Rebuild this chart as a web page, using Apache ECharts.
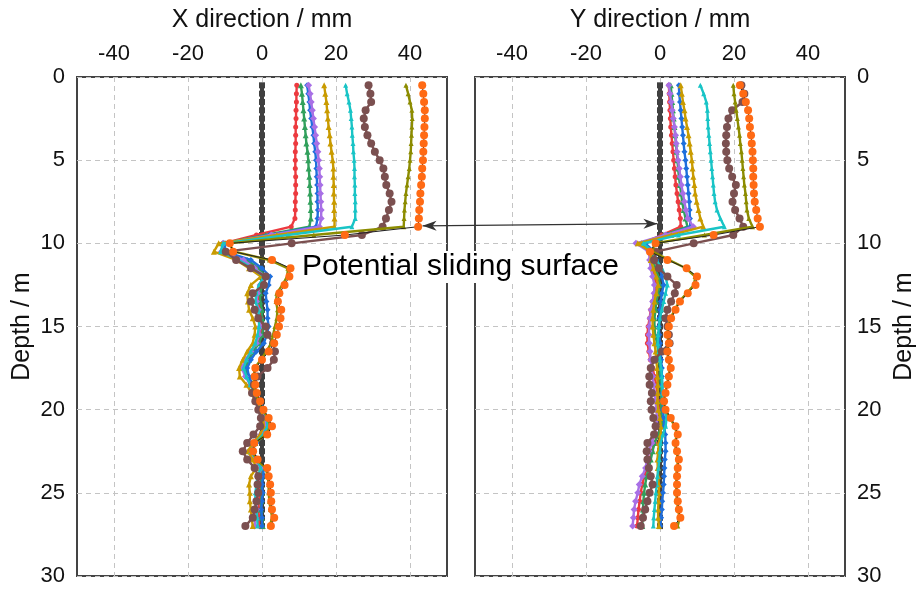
<!DOCTYPE html>
<html><head><meta charset="utf-8">
<script src="https://cdn.jsdelivr.net/npm/echarts@6/dist/echarts.min.js"></script>
<style>html,body{margin:0;padding:0;background:#fff}#c{width:922px;height:592px}</style>
</head><body><div id="c"></div>
<script>
const depths = [0.5,1,1.5,2,2.5,3,3.5,4,4.5,5,5.5,6,6.5,7,7.5,8,8.5,9,9.5,10,10.5,11,11.5,12,12.5,13,13.5,14,14.5,15,15.5,16,16.5,17,17.5,18,18.5,19,19.5,20,20.5,21,21.5,22,22.5,23,23.5,24,24.5,25,25.5,26,26.5,27];
const xTicks = [-40,-20,0,20,40];
const depthTicks = [0,5,10,15,20,25,30];

const refZero = [0,0,0,0,0,0,0,0,0,0,0,0,0,0,0,0,0,0,0,0,0,0,0,0,0,0,0,0,0,0,0,0,0,0,0,0,0,0,0,0,0,0,0,0,0,0,0,0,0,0,0,0,0,0];

// X direction (mm)
const xRed = [9.4,9.3,9.3,9.2,9.2,9.1,9.1,9.1,9.0,9.0,9.0,9.1,9.1,9.1,9.0,9.0,8.9,7.9,-1.5,-10.5,-10.0,-4.5,-2.0,0.5,-0.5,-1.0,-1.0,-0.5,-0.2,0.2,-0.3,-1.0,-2.5,-3.8,-4.8,-4.0,-3.0,-2.0,-1.0,0.0,0.8,1.0,0.0,-2.0,-3.2,-1.5,0.0,-0.5,-0.8,-0.5,-0.8,-1.0,-0.8,-0.8];
const xGreen = [10.5,10.8,11.0,11.2,11.4,11.6,11.8,12.0,12.3,12.5,12.6,12.8,12.9,13.0,13.1,13.2,13.2,12.8,1.0,-10.5,-10.5,-4.0,-1.0,1.0,0.0,-0.5,-0.5,0.0,0.0,0.5,0.0,-0.8,-2.3,-3.5,-4.5,-3.8,-2.8,-1.8,-0.8,0.2,1.0,1.2,0.2,-1.8,-3.0,-1.2,0.3,0.0,-0.3,0.0,-0.2,-0.3,0.0,0.2];
const xBlue = [12.2,12.5,12.8,13.0,13.3,13.6,13.9,14.1,14.4,14.6,14.7,14.8,14.9,15.0,15.0,15.1,15.0,14.6,2.0,-10.0,-10.0,-3.0,0.0,2.2,1.8,1.0,1.2,1.5,1.5,1.8,1.3,0.5,-1.5,-3.0,-4.0,-3.5,-2.5,-1.5,-0.5,0.5,1.2,1.5,0.5,-1.5,-2.8,-1.0,0.5,0.3,0.0,0.2,0.0,-0.2,0.0,0.0];
const xPurple = [12.6,13.0,13.3,13.6,13.9,14.2,14.5,14.8,15.1,15.3,15.5,15.6,15.7,15.8,15.9,16.0,16.0,15.5,2.5,-10.5,-11.0,-5.0,-2.0,0.8,-0.5,-1.2,-1.5,-1.0,-0.8,-0.5,-0.8,-1.5,-3.0,-4.5,-5.5,-4.5,-3.2,-2.0,-1.0,0.0,0.8,0.8,-0.3,-2.5,-3.5,-2.0,-0.3,-0.8,-1.2,-1.2,-1.5,-1.5,-1.8,-2.0];
const xGold = [16.8,17.1,17.4,17.6,17.8,18.0,18.3,18.5,18.8,19.1,19.3,19.3,19.4,19.4,19.5,19.5,19.6,19.6,4.0,-11.7,-13.0,-7.0,-3.5,-0.3,-3.0,-4.0,-3.8,-3.5,-2.5,-1.8,-2.0,-2.5,-4.0,-5.2,-6.2,-6.0,-4.2,-2.8,-1.8,-0.5,0.3,0.5,-0.5,-2.5,-3.8,-2.5,-1.5,-3.0,-3.5,-3.3,-3.3,-3.0,-2.8,-2.5];
const xCyan = [22.6,23.0,23.5,23.9,24.1,24.3,24.4,24.6,24.7,24.9,25.0,25.0,25.1,25.1,25.2,25.2,25.2,24.3,7.0,-10.5,-11.2,-6.3,-2.5,0.5,-0.8,-1.5,-1.8,-1.0,-0.8,-0.8,-1.2,-1.8,-3.0,-4.2,-5.0,-4.2,-3.2,-2.0,-0.8,0.3,1.3,1.5,0.3,-1.8,-3.0,-1.5,-0.3,-1.2,-1.5,-1.8,-1.8,-1.5,-1.3,-1.2];
const xBrown = [28.8,29.3,29.5,28.0,27.5,27.8,28.5,29.5,30.5,31.8,32.8,33.2,33.6,34.5,35.0,34.3,33.5,32.6,27.0,8.0,-9.8,-7.0,-3.0,1.0,0.5,-2.5,-3.0,-2.0,-1.0,1.0,1.5,3.0,3.5,3.2,1.5,-1.2,-2.2,-2.7,-1.8,-1.0,-0.3,-0.5,-2.3,-4.0,-5.2,-4.0,-2.0,-1.0,-1.2,-1.0,-1.5,-2.0,-2.5,-4.5];
const xOlive = [38.9,39.5,40.0,40.5,40.6,40.5,40.4,40.3,40.2,40.0,39.8,39.5,39.2,38.9,38.7,38.5,38.4,38.3,14.0,-9.0,-7.5,2.0,7.0,6.8,5.5,4.0,3.8,4.2,4.0,3.5,3.0,2.5,1.2,-0.3,-2.0,-2.2,-2.2,-1.8,-0.8,0.2,1.5,2.3,1.0,-1.8,-2.6,-1.5,1.0,1.5,1.8,1.8,2.0,2.3,2.8,2.0];
const xOrange = [43.3,43.6,43.8,44.0,44.0,43.9,43.8,43.7,43.6,43.5,43.3,43.2,43.0,42.8,42.7,42.5,42.4,42.2,22.4,-8.7,-7.8,2.7,7.7,7.4,6.1,4.7,4.3,5.2,5.0,4.6,4.0,3.3,1.8,0.0,-1.8,-2.0,-1.8,-1.4,-0.5,0.4,1.8,2.7,1.4,-2.1,-2.4,-1.2,1.4,1.8,2.2,2.4,2.5,2.7,3.3,2.4];

// Y direction (mm)
const yRed = [2.4,2.5,2.6,2.7,2.8,2.9,3.1,3.3,3.5,3.7,3.9,4.1,4.3,4.6,4.9,5.2,5.5,5.6,0.5,-5.0,-2.5,-2.5,-2.0,-1.5,-1.0,-1.5,-2.0,-2.5,-2.8,-3.2,-3.4,-3.4,-3.0,-2.6,-2.0,-1.5,-1.0,-0.8,-0.5,-0.3,0.2,0.5,-0.5,-1.5,-2.2,-2.8,-3.5,-4.2,-4.8,-5.2,-5.5,-5.8,-6.0,-6.2];
const yGreen = [2.9,3.1,3.3,3.5,3.7,3.9,4.1,4.3,4.5,4.7,4.9,5.1,5.4,5.7,6.0,6.4,6.9,7.4,1.0,-5.0,-2.0,-2.0,-1.2,-0.5,0.0,-0.5,-1.0,-1.2,-1.5,-1.5,-1.3,-0.8,-0.5,-0.3,0.0,0.0,0.2,0.3,0.3,0.3,0.5,0.5,-0.5,-1.5,-2.0,-2.5,-3.0,-3.6,-4.0,-4.3,-4.5,-4.6,-4.7,-4.8];
const yBlue = [5.1,5.2,5.4,5.6,5.8,6.0,6.2,6.4,6.6,6.9,7.1,7.3,7.5,7.7,7.9,8.0,8.1,8.2,2.0,-4.0,-1.5,-1.0,0.0,0.5,1.0,0.5,0.2,0.0,-0.2,-0.3,-0.2,0.0,0.2,0.3,0.5,0.5,0.6,0.7,0.8,0.8,1.0,1.2,1.4,1.5,1.5,1.3,1.2,1.1,1.0,0.8,0.6,0.5,0.3,0.1];
const yPurple = [2.4,2.7,3.0,3.3,3.6,3.9,4.2,4.4,4.6,4.9,5.2,5.5,5.8,6.2,6.6,7.0,7.5,9.0,1.5,-6.5,-3.0,-2.8,-2.5,-2.0,-1.5,-1.6,-2.0,-2.4,-2.7,-2.9,-3.0,-2.9,-2.7,-2.5,-2.3,-2.0,-1.8,-1.5,-1.2,-1.0,-0.8,-0.8,-1.5,-2.2,-3.0,-3.5,-3.9,-4.8,-5.6,-6.0,-6.6,-7.0,-7.2,-7.4];
const yGold = [5.6,5.9,6.2,6.6,6.9,7.3,7.7,8.0,8.3,8.6,8.8,9.0,9.3,9.5,9.9,10.4,10.9,11.7,3.0,-6.0,-2.5,-2.5,-1.8,-1.0,-0.5,-1.0,-1.5,-1.8,-2.0,-2.0,-1.8,-1.5,-1.2,-1.0,-0.8,-0.7,-0.6,-0.6,-0.7,-0.5,0.0,0.2,0.2,-0.3,-0.5,-0.7,-0.6,-0.5,-0.3,-0.3,-0.4,-0.5,-0.5,-0.3];
const yCyan = [10.9,11.8,12.5,12.8,12.9,13.0,13.2,13.4,13.6,13.8,14.0,14.2,14.4,14.6,14.9,15.4,16.3,17.4,5.0,-4.5,-2.0,-1.0,0.5,1.5,2.0,1.5,1.0,0.5,0.0,-0.3,-0.5,-0.6,-0.3,0.0,0.3,0.5,0.6,0.7,0.9,1.2,1.8,1.5,0.8,0.2,0.0,-0.2,-0.4,-0.7,-0.9,-1.1,-1.3,-1.5,-1.7,-1.8];
const yBrown = [22.0,22.8,22.3,19.5,18.5,18.1,17.9,17.8,17.9,18.2,18.7,19.5,20.5,20.0,19.6,20.3,21.5,22.5,19.8,9.1,-1.2,-1.6,-0.3,2.0,4.5,4.0,3.0,2.0,1.5,2.0,2.4,2.6,0.5,-1.5,-2.5,-2.9,-2.8,-2.2,-2.5,-2.3,-1.8,-1.2,-1.6,-3.4,-3.6,-3.4,-3.0,-2.5,-2.0,-2.8,-3.4,-4.0,-4.6,-5.2];
const yOlive = [19.8,20.0,20.3,20.6,20.9,21.2,21.5,21.7,22.0,22.2,22.4,22.6,22.8,23.1,23.3,23.5,24.0,25.0,12.0,-1.5,-2.0,2.5,7.0,9.5,9.2,7.2,5.2,4.0,2.8,2.2,2.0,2.3,2.0,2.3,2.7,2.3,1.9,1.4,1.0,1.4,2.7,4.0,4.6,4.0,4.4,4.9,4.6,4.4,4.4,4.4,4.6,4.9,5.3,4.8];
const yOrange = [21.6,22.5,23.2,23.8,24.1,24.3,24.6,24.8,25.0,25.1,25.2,25.2,25.3,25.4,25.6,26.0,26.4,27.0,14.5,-1.2,-2.7,2.0,7.2,10.0,9.6,7.5,5.4,4.2,3.0,2.4,2.0,2.4,2.0,2.4,2.9,2.4,2.0,1.5,1.1,1.5,2.9,4.2,4.8,4.2,4.6,5.1,4.8,4.6,4.6,4.6,4.8,5.1,5.5,3.8];

const annotationText = 'Potential sliding surface';
const arrowFrom = [43.4, 8.95];   // X panel (value, depth)
const arrowTo = [-0.7, 8.82];     // Y panel (value, depth)

const styles = [
  {key:'ref', color:'#404040', line:'#404040', w:4, symbol:'rect', size:6},
  {key:'red', color:'#ec3a3f', line:'#ec3a3f', w:2.4, symbol:'circle', size:5},
  {key:'green', color:'#31a05c', line:'#31a05c', w:2.4, symbol:'triangle', size:6},
  {key:'blue', color:'#1f6fdc', line:'#1f6fdc', w:2.4, symbol:'diamond', size:6},
  {key:'purple', color:'#a870e6', line:'#a870e6', w:2.4, symbol:'diamond', size:7},
  {key:'gold', color:'#c99b00', line:'#c99b00', w:2.4, symbol:'triangle', size:6},
  {key:'cyan', color:'#19c4c6', line:'#19c4c6', w:2.4, symbol:'triangle', size:5},
  {key:'brown', color:'#7b5050', line:'#7b5050', w:2.4, symbol:'circle', size:8},
  {key:'olive', color:'#8c8c00', line:'#8c8c00', w:2.4, symbol:'triangle', size:5},
  {key:'orange', color:'#ff6a14', line:'#222222', w:1, symbol:'circle', size:8}
];
const xSets = [refZero, xRed, xGreen, xBlue, xPurple, xGold, xCyan, xBrown, xOlive, xOrange];
const ySets = [refZero, yRed, yGreen, yBlue, yPurple, yGold, yCyan, yBrown, yOlive, yOrange];

const FONT = '"Liberation Sans", Arial, sans-serif';
function mkSeries(vals, g, st, i) {
  return {
    type: 'line', name: st.key + g, xAxisIndex: g, yAxisIndex: g,
    data: depths.map((d, k) => [vals[k], d]),
    symbol: st.symbol, symbolSize: st.size, showSymbol: true,
    lineStyle: {color: st.line, width: st.w},
    itemStyle: {color: st.color, borderWidth: 0},
    z: 2 + i, animation: false, silent: true
  };
}
const series = [];
styles.forEach((st, i) => { series.push(mkSeries(xSets[i], 0, st, i)); });
styles.forEach((st, i) => { series.push(mkSeries(ySets[i], 1, st, i)); });

function xAxisDef(g, name) {
  return {
    gridIndex: g, type: 'value', position: 'top', min: -50, max: 50,
    name: name, nameLocation: 'middle', nameGap: 44,
    nameTextStyle: {fontSize: 25, color: '#111', fontFamily: FONT},
    axisLine: {show: false},
    axisTick: {show: false, customValues: xTicks},
    axisLabel: {customValues: xTicks, fontSize: 22, color: '#111', fontFamily: FONT, margin: 12},
    splitLine: {show: true, lineStyle: {color: '#c4c4c4', width: 1, type: [5, 4]}}
  };
}
function yAxisDef(g, pos) {
  return {
    gridIndex: g, type: 'value', inverse: true, min: 0, max: 30, interval: 5, position: pos,
    name: 'Depth / m', nameLocation: 'middle', nameRotate: 90, nameGap: pos === 'left' ? 42 : 47,
    nameTextStyle: {fontSize: 25, color: '#111', fontFamily: FONT},
    axisLine: {show: false}, axisTick: {show: false},
    axisLabel: {fontSize: 22, color: '#111', fontFamily: FONT, margin: 12},
    splitLine: {show: true, lineStyle: {color: '#c4c4c4', width: 1, type: [5, 4]}}
  };
}

const chart = echarts.init(document.getElementById('c'), null, {renderer: 'canvas'});
chart.setOption({
  animation: false,
  backgroundColor: '#ffffff',
  grid: [
    {left: 77, top: 77, width: 370, height: 499, show: true, borderColor: '#444', borderWidth: 2, backgroundColor: 'transparent'},
    {left: 475, top: 77, width: 370, height: 499, show: true, borderColor: '#444', borderWidth: 2, backgroundColor: 'transparent'}
  ],
  xAxis: [xAxisDef(0, 'X direction / mm'), xAxisDef(1, 'Y direction / mm')],
  yAxis: [yAxisDef(0, 'left'), yAxisDef(1, 'right')],
  series: series
});

const p1 = chart.convertToPixel({gridIndex: 0}, arrowFrom);
const p2 = chart.convertToPixel({gridIndex: 1}, arrowTo);
const ang = Math.atan2(p2[1] - p1[1], p2[0] - p1[0]);
function head(tip, dir) {
  const L = 14, W = 5;
  const a = ang + (dir < 0 ? Math.PI : 0);
  const bx = tip[0] - L * Math.cos(a), by = tip[1] - L * Math.sin(a);
  const nx = -Math.sin(a) * W, ny = Math.cos(a) * W;
  return [[tip[0], tip[1]], [bx + nx, by + ny], [bx + 4 * Math.cos(a), by + 4 * Math.sin(a)], [bx - nx, by - ny]];
}
chart.setOption({
  graphic: [
    {type: 'text', left: 300, top: 251, z: 100,
     style: {text: annotationText, fontSize: 30, fontFamily: FONT, fill: '#000', backgroundColor: '#fff', padding: [1, 2, 1, 2]}},
    {type: 'line', z: 101, shape: {x1: p1[0], y1: p1[1], x2: p2[0], y2: p2[1]}, style: {stroke: '#333', lineWidth: 1.2}},
    {type: 'polygon', z: 101, shape: {points: head(p1, -1)}, style: {fill: '#333'}},
    {type: 'polygon', z: 101, shape: {points: head(p2, 1)}, style: {fill: '#333'}}
  ]
});
</script>
</body></html>
